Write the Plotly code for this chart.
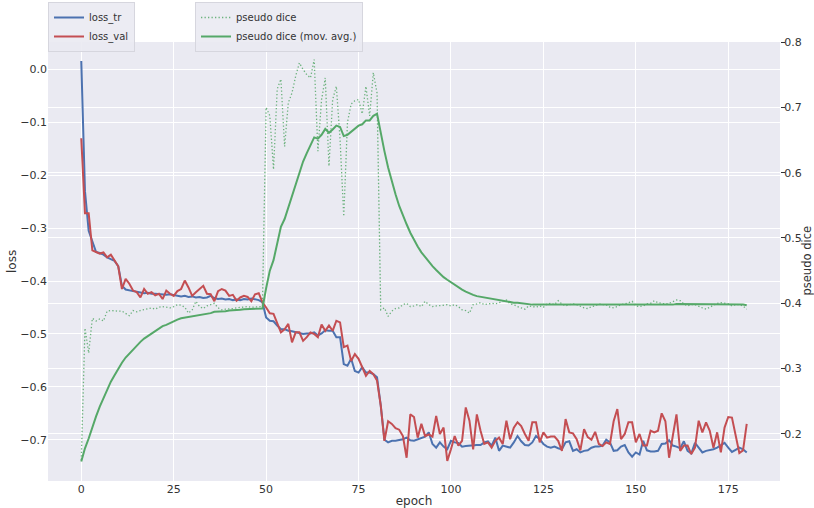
import plotly.graph_objects as go

epochs = list(range(181))

loss_tr = [
    0.016, -0.23, -0.305, -0.325, -0.345, -0.347, -0.35, -0.355, -0.358, -0.362,
    -0.372, -0.409, -0.416, -0.418, -0.419, -0.42, -0.422, -0.423, -0.422, -0.424,
    -0.424, -0.425, -0.426, -0.426, -0.425, -0.426, -0.428, -0.429, -0.428, -0.43,
    -0.429, -0.431, -0.43, -0.432, -0.431, -0.428, -0.432, -0.434, -0.433, -0.435,
    -0.434, -0.436, -0.435, -0.436, -0.434, -0.435, -0.433, -0.434, -0.436, -0.44,
    -0.469, -0.475, -0.476, -0.484, -0.491, -0.491, -0.494, -0.495, -0.497, -0.499,
    -0.5, -0.499, -0.499, -0.497, -0.503, -0.499, -0.493, -0.494, -0.494, -0.506,
    -0.506, -0.557, -0.56, -0.547, -0.57, -0.573, -0.563, -0.573, -0.573, -0.576,
    -0.582, -0.635, -0.7, -0.705, -0.702, -0.702, -0.701, -0.699, -0.696, -0.701,
    -0.702, -0.699, -0.697, -0.694, -0.686, -0.708, -0.715, -0.705, -0.713, -0.718,
    -0.702, -0.705, -0.706, -0.713, -0.712, -0.711, -0.711, -0.71, -0.71, -0.705,
    -0.703, -0.711, -0.696, -0.721, -0.711, -0.713, -0.715, -0.705, -0.693, -0.703,
    -0.71, -0.711, -0.705, -0.693, -0.699, -0.708, -0.713, -0.715, -0.713, -0.716,
    -0.718, -0.705, -0.703, -0.721, -0.718, -0.724, -0.721, -0.72, -0.715, -0.713,
    -0.713, -0.711, -0.7, -0.705, -0.721, -0.72, -0.713, -0.71, -0.724, -0.732,
    -0.724, -0.728, -0.702, -0.72, -0.722, -0.722, -0.721, -0.708, -0.707, -0.701,
    -0.711, -0.713, -0.716, -0.703, -0.721, -0.726, -0.706, -0.715, -0.724, -0.721,
    -0.72, -0.718, -0.715, -0.71, -0.706, -0.715, -0.723, -0.719, -0.715, -0.718,
    -0.724,
]

loss_val = [
    -0.13, -0.272, -0.272, -0.342, -0.345, -0.348, -0.346, -0.355, -0.35, -0.362,
    -0.372, -0.415, -0.396, -0.405, -0.418, -0.421, -0.431, -0.415, -0.424, -0.421,
    -0.427, -0.424, -0.434, -0.418, -0.424, -0.428, -0.419, -0.415, -0.399, -0.412,
    -0.428, -0.421, -0.415, -0.409, -0.424, -0.425, -0.438, -0.419, -0.415, -0.418,
    -0.428, -0.426, -0.437, -0.431, -0.428, -0.43, -0.438, -0.425, -0.423, -0.44,
    -0.45, -0.461, -0.462, -0.481, -0.497, -0.491, -0.481, -0.516, -0.497, -0.497,
    -0.513, -0.506, -0.497, -0.5, -0.506, -0.482, -0.494, -0.484, -0.494, -0.475,
    -0.478, -0.525, -0.522, -0.551, -0.538, -0.547, -0.563, -0.579, -0.57, -0.576,
    -0.588, -0.635, -0.702, -0.665, -0.67, -0.678, -0.681, -0.693, -0.734, -0.652,
    -0.657, -0.696, -0.67, -0.693, -0.69, -0.694, -0.655, -0.689, -0.677, -0.74,
    -0.718, -0.693, -0.711, -0.702, -0.639, -0.664, -0.718, -0.652, -0.683, -0.708,
    -0.705, -0.715, -0.702, -0.696, -0.708, -0.664, -0.699, -0.677, -0.667, -0.674,
    -0.689, -0.702, -0.667, -0.667, -0.705, -0.686, -0.696, -0.694, -0.694, -0.702,
    -0.721, -0.661, -0.686, -0.688, -0.699, -0.72, -0.68, -0.695, -0.7, -0.685,
    -0.708, -0.712, -0.705, -0.708, -0.665, -0.642, -0.699, -0.689, -0.667, -0.667,
    -0.705, -0.689, -0.711, -0.711, -0.683, -0.686, -0.683, -0.65, -0.665, -0.734,
    -0.693, -0.652, -0.721, -0.711, -0.711, -0.727, -0.715, -0.664, -0.686, -0.667,
    -0.683, -0.715, -0.686, -0.724, -0.677, -0.657, -0.658, -0.69, -0.725, -0.72,
    -0.67,
]

pseudo_dice = [
    0.16, 0.362, 0.324, 0.377, 0.373, 0.376, 0.373, 0.388, 0.389, 0.388,
    0.388, 0.388, 0.385, 0.381, 0.389, 0.387, 0.389, 0.39, 0.391, 0.393,
    0.391, 0.394, 0.395, 0.394, 0.393, 0.395, 0.398, 0.397, 0.394, 0.385,
    0.39, 0.403, 0.395, 0.392, 0.396, 0.398, 0.4, 0.393, 0.39, 0.391,
    0.391, 0.392, 0.393, 0.394, 0.395, 0.395, 0.394, 0.394, 0.394, 0.395,
    0.70, 0.687, 0.605, 0.728, 0.743, 0.64, 0.707, 0.722, 0.748, 0.768,
    0.758, 0.75, 0.745, 0.773, 0.633, 0.712, 0.745, 0.61, 0.712, 0.732,
    0.651, 0.533, 0.677, 0.705, 0.71, 0.712, 0.69, 0.732, 0.687, 0.753,
    0.722, 0.39, 0.393, 0.38, 0.388, 0.392, 0.393, 0.398, 0.4, 0.395,
    0.396, 0.398, 0.395, 0.403, 0.398, 0.395, 0.396, 0.396, 0.397, 0.398,
    0.396, 0.398, 0.395, 0.39, 0.389, 0.385, 0.398, 0.399, 0.401, 0.398,
    0.399, 0.4, 0.399, 0.401, 0.404, 0.405, 0.399, 0.398, 0.395, 0.393,
    0.391, 0.396, 0.395, 0.394, 0.396, 0.394, 0.399, 0.4, 0.398, 0.404,
    0.399, 0.396, 0.398, 0.399, 0.398, 0.395, 0.393, 0.392, 0.395, 0.396,
    0.399, 0.398, 0.398, 0.394, 0.393, 0.395, 0.398, 0.399, 0.401, 0.403,
    0.396, 0.395, 0.396, 0.399, 0.4, 0.404, 0.401, 0.4, 0.399, 0.4,
    0.403, 0.405, 0.404, 0.399, 0.396, 0.398, 0.398, 0.395, 0.393, 0.391,
    0.394, 0.398, 0.4, 0.401, 0.4, 0.399, 0.396, 0.398, 0.398, 0.396,
    0.391,
]

pseudo_dice_mov = [
    0.158, 0.178, 0.193, 0.211, 0.227, 0.242, 0.255, 0.268, 0.28, 0.29,
    0.3, 0.309, 0.317, 0.323, 0.33, 0.336, 0.341, 0.346, 0.35, 0.354,
    0.358, 0.361, 0.365, 0.367, 0.37, 0.372, 0.375, 0.377, 0.378, 0.378,
    0.379, 0.381, 0.382, 0.383, 0.384, 0.385, 0.387, 0.387, 0.388, 0.388,
    0.389, 0.389, 0.39, 0.39, 0.391, 0.391, 0.391, 0.392, 0.392, 0.392,
    0.423, 0.45, 0.466, 0.492, 0.517, 0.529, 0.547, 0.564, 0.583, 0.601,
    0.617, 0.63, 0.641, 0.654, 0.652, 0.658, 0.667, 0.661, 0.666, 0.672,
    0.67, 0.656, 0.658, 0.663, 0.668, 0.672, 0.674, 0.68, 0.68, 0.687,
    0.69, 0.66, 0.633, 0.608, 0.586, 0.567, 0.549, 0.534, 0.521, 0.508,
    0.497, 0.487, 0.478, 0.471, 0.463, 0.457, 0.451, 0.445, 0.44, 0.436,
    0.432, 0.428, 0.425, 0.421, 0.418, 0.415, 0.413, 0.411, 0.41, 0.408,
    0.407, 0.406, 0.405, 0.404, 0.404, 0.403, 0.402, 0.401, 0.401, 0.4,
    0.399, 0.399, 0.398, 0.398, 0.398, 0.397, 0.397, 0.397, 0.397, 0.397,
    0.397, 0.397, 0.397, 0.397, 0.397, 0.397, 0.397, 0.397, 0.397, 0.397,
    0.397, 0.397, 0.397, 0.397, 0.397, 0.397, 0.397, 0.397, 0.397, 0.398,
    0.398, 0.397, 0.397, 0.397, 0.397, 0.398, 0.398, 0.398, 0.398, 0.398,
    0.398, 0.399, 0.399, 0.399, 0.399, 0.398, 0.398, 0.398, 0.398, 0.398,
    0.398, 0.398, 0.398, 0.398, 0.398, 0.398, 0.398, 0.398, 0.398, 0.398,
    0.397,
]

x_ticks = [0, 25, 50, 75, 100, 125, 150, 175]

BLUE = "#4C72B0"
RED = "#C44E52"
GREEN = "#55A868"
TXT = "#333333"
FONT = "DejaVu Sans"

fig = go.Figure()
fig.add_trace(go.Scatter(x=epochs, y=loss_tr, mode="lines", name="loss_tr",
                         line=dict(color=BLUE, width=2), legend="legend"))
fig.add_trace(go.Scatter(x=epochs, y=loss_val, mode="lines", name="loss_val",
                         line=dict(color=RED, width=2), legend="legend"))
fig.add_trace(go.Scatter(x=epochs, y=pseudo_dice, mode="lines", name="pseudo dice",
                         line=dict(color=GREEN, width=1.3, dash="1.3px,2.2px"),
                         opacity=0.85, yaxis="y2", legend="legend2"))
fig.add_trace(go.Scatter(x=epochs, y=pseudo_dice_mov, mode="lines",
                         name="pseudo dice (mov. avg.)",
                         line=dict(color=GREEN, width=2),
                         yaxis="y2", legend="legend2"))

legend_common = dict(
    bgcolor="rgba(234,234,242,0.9)", bordercolor="#D6D6DE", borderwidth=1,
    font=dict(family=FONT, size=10, color=TXT),
    xref="container", yref="container", xanchor="left", yanchor="top",
    itemwidth=30, tracegroupgap=0,
)

fig.update_layout(
    width=814, height=508,
    margin=dict(l=48, r=34, t=42, b=27, autoexpand=False),
    paper_bgcolor="white",
    plot_bgcolor="#EAEAF2",
    font=dict(family=FONT, size=11, color=TXT),
    showlegend=True,
    legend=dict(x=48 / 814, y=1 - 2 / 508, **legend_common),
    legend2=dict(x=195 / 814, y=1 - 2 / 508, **legend_common),
    xaxis=dict(
        range=[-9, 189], tickvals=x_ticks, showgrid=True, gridcolor="white",
        gridwidth=1, zeroline=False, showline=False, ticks="",
        title=dict(text="epoch", font=dict(size=12)),
        tickfont=dict(size=11, color=TXT),
    ),
    yaxis=dict(
        range=[-0.778, 0.052], dtick=0.1, tick0=0, tickformat=".1f",
        showgrid=True, gridcolor="white", gridwidth=1, zeroline=False,
        showline=False, ticks="",
        tickfont=dict(size=11, color=TXT),
    ),
    yaxis2=dict(
        range=[0.128, 0.8], dtick=0.1, tick0=0, tickformat=".1f",
        overlaying="y", side="right",
        showgrid=True, gridcolor="white", gridwidth=1, zeroline=False,
        showline=False, ticks="outside", ticklen=4, tickcolor=TXT,
        ticklabelstandoff=-3,
        tickfont=dict(size=11, color=TXT),
    ),
    annotations=[
        dict(text="loss", xref="paper", yref="paper",
             x=(12 - 48) / 732, y=(481 - 262) / 439, textangle=-90,
             showarrow=False, font=dict(family=FONT, size=12, color=TXT),
             xanchor="center", yanchor="middle"),
        dict(text="pseudo dice", xref="paper", yref="paper",
             x=(806.5 - 48) / 732, y=(481 - 261) / 439, textangle=-90,
             showarrow=False, font=dict(family=FONT, size=11.5, color=TXT),
             xanchor="center", yanchor="middle"),
    ],
)

fig.write_html(
    "out.html",
    config={"displayModeBar": False},
    post_script="document.body.style.margin='0';document.body.style.overflow='hidden';",
)
